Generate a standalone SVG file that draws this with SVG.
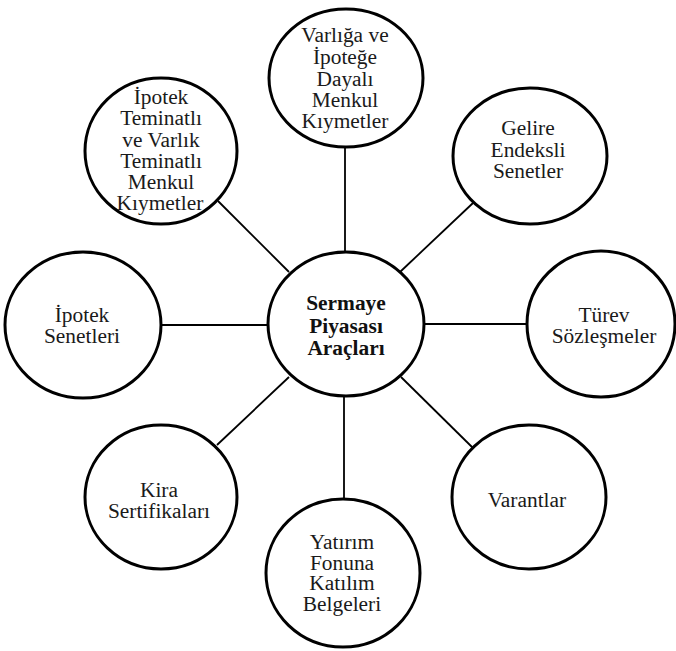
<svg xmlns="http://www.w3.org/2000/svg" width="676" height="651" viewBox="0 0 676 651">
  <style>
    .node { fill: #ffffff; stroke: #000000; stroke-width: 3; }
    .link { stroke: #000000; stroke-width: 1.8; fill: none; }
    text { font-family: 'Liberation Serif', 'DejaVu Serif', serif; font-size: 20px; fill: #1a1a1a; text-anchor: middle; }
    .hub { font-weight: bold; fill: #111111; }
  </style>
  <rect width="676" height="651" fill="#ffffff"/>

  <!-- spokes from the central node -->
  <g id="connectors">
    <line class="link" x1="345" y1="147" x2="345" y2="252"/>
    <line class="link" x1="218" y1="201" x2="289" y2="272"/>
    <line class="link" x1="473" y1="203" x2="400" y2="272"/>
    <line class="link" x1="160" y1="325" x2="268" y2="325"/>
    <line class="link" x1="424" y1="324" x2="527" y2="324"/>
    <line class="link" x1="217" y1="445" x2="289" y2="377"/>
    <line class="link" x1="473" y1="448" x2="401" y2="377"/>
    <line class="link" x1="344" y1="397" x2="344" y2="499"/>
  </g>

  <!-- labels are widened slightly about each node's centre line -->
  <g id="center">
    <ellipse class="node" cx="346" cy="324" rx="78" ry="72"/>
    <g transform="matrix(1.07,0,0,1,-24.22,0)">
      <text class="hub" x="346" y="310">Sermaye</text>
      <text class="hub" x="346" y="333">Piyasası</text>
      <text class="hub" x="346" y="355">Araçları</text>
    </g>
  </g>

  <g id="n-top">
    <ellipse class="node" cx="346" cy="78" rx="77" ry="69"/>
    <g transform="matrix(1.07,0,0,1,-24.15,0)">
      <text x="345" y="42">Varlığa ve</text>
      <text x="345" y="64">İpoteğe</text>
      <text x="345" y="86">Dayalı</text>
      <text x="345" y="107">Menkul</text>
      <text x="345" y="128">Kıymetler</text>
    </g>
  </g>

  <g id="n-upper-left">
    <ellipse class="node" cx="161" cy="151" rx="76" ry="73"/>
    <g transform="matrix(1.07,0,0,1,-11.27,0)">
      <text x="161" y="104">İpotek</text>
      <text x="161" y="125">Teminatlı</text>
      <text x="161" y="147">ve Varlık</text>
      <text x="161" y="168">Teminatlı</text>
      <text x="161" y="189">Menkul</text>
      <text x="160" y="210">Kıymetler</text>
    </g>
  </g>

  <g id="n-upper-right">
    <ellipse class="node" cx="530" cy="156" rx="77" ry="68"/>
    <g transform="matrix(1.07,0,0,1,-36.96,0)">
      <text x="528" y="135">Gelire</text>
      <text x="528" y="157">Endeksli</text>
      <text x="528" y="178">Senetler</text>
    </g>
  </g>

  <g id="n-left">
    <ellipse class="node" cx="83" cy="325" rx="78" ry="73"/>
    <g transform="matrix(1.07,0,0,1,-5.74,0)">
      <text x="82" y="322">İpotek</text>
      <text x="82" y="343">Senetleri</text>
    </g>
  </g>

  <g id="n-right">
    <ellipse class="node" cx="601" cy="324" rx="74" ry="73"/>
    <g transform="matrix(1.07,0,0,1,-42.28,0)">
      <text x="604" y="322">Türev</text>
      <text x="604" y="343">Sözleşmeler</text>
    </g>
  </g>

  <g id="n-lower-left">
    <ellipse class="node" cx="161" cy="497" rx="76" ry="72"/>
    <g transform="matrix(1.07,0,0,1,-11.13,0)">
      <text x="159" y="497">Kira</text>
      <text x="159" y="518">Sertifikaları</text>
    </g>
  </g>

  <g id="n-lower-right">
    <ellipse class="node" cx="529" cy="497" rx="77" ry="72"/>
    <g transform="matrix(1.07,0,0,1,-36.89,0)">
      <text x="527" y="507">Varantlar</text>
    </g>
  </g>

  <g id="n-bottom">
    <ellipse class="node" cx="343" cy="573" rx="77" ry="74"/>
    <g transform="matrix(1.07,0,0,1,-23.94,0)">
      <text x="342" y="549">Yatırım</text>
      <text x="342" y="570">Fonuna</text>
      <text x="342" y="590">Katılım</text>
      <text x="342" y="611">Belgeleri</text>
    </g>
  </g>
</svg>
